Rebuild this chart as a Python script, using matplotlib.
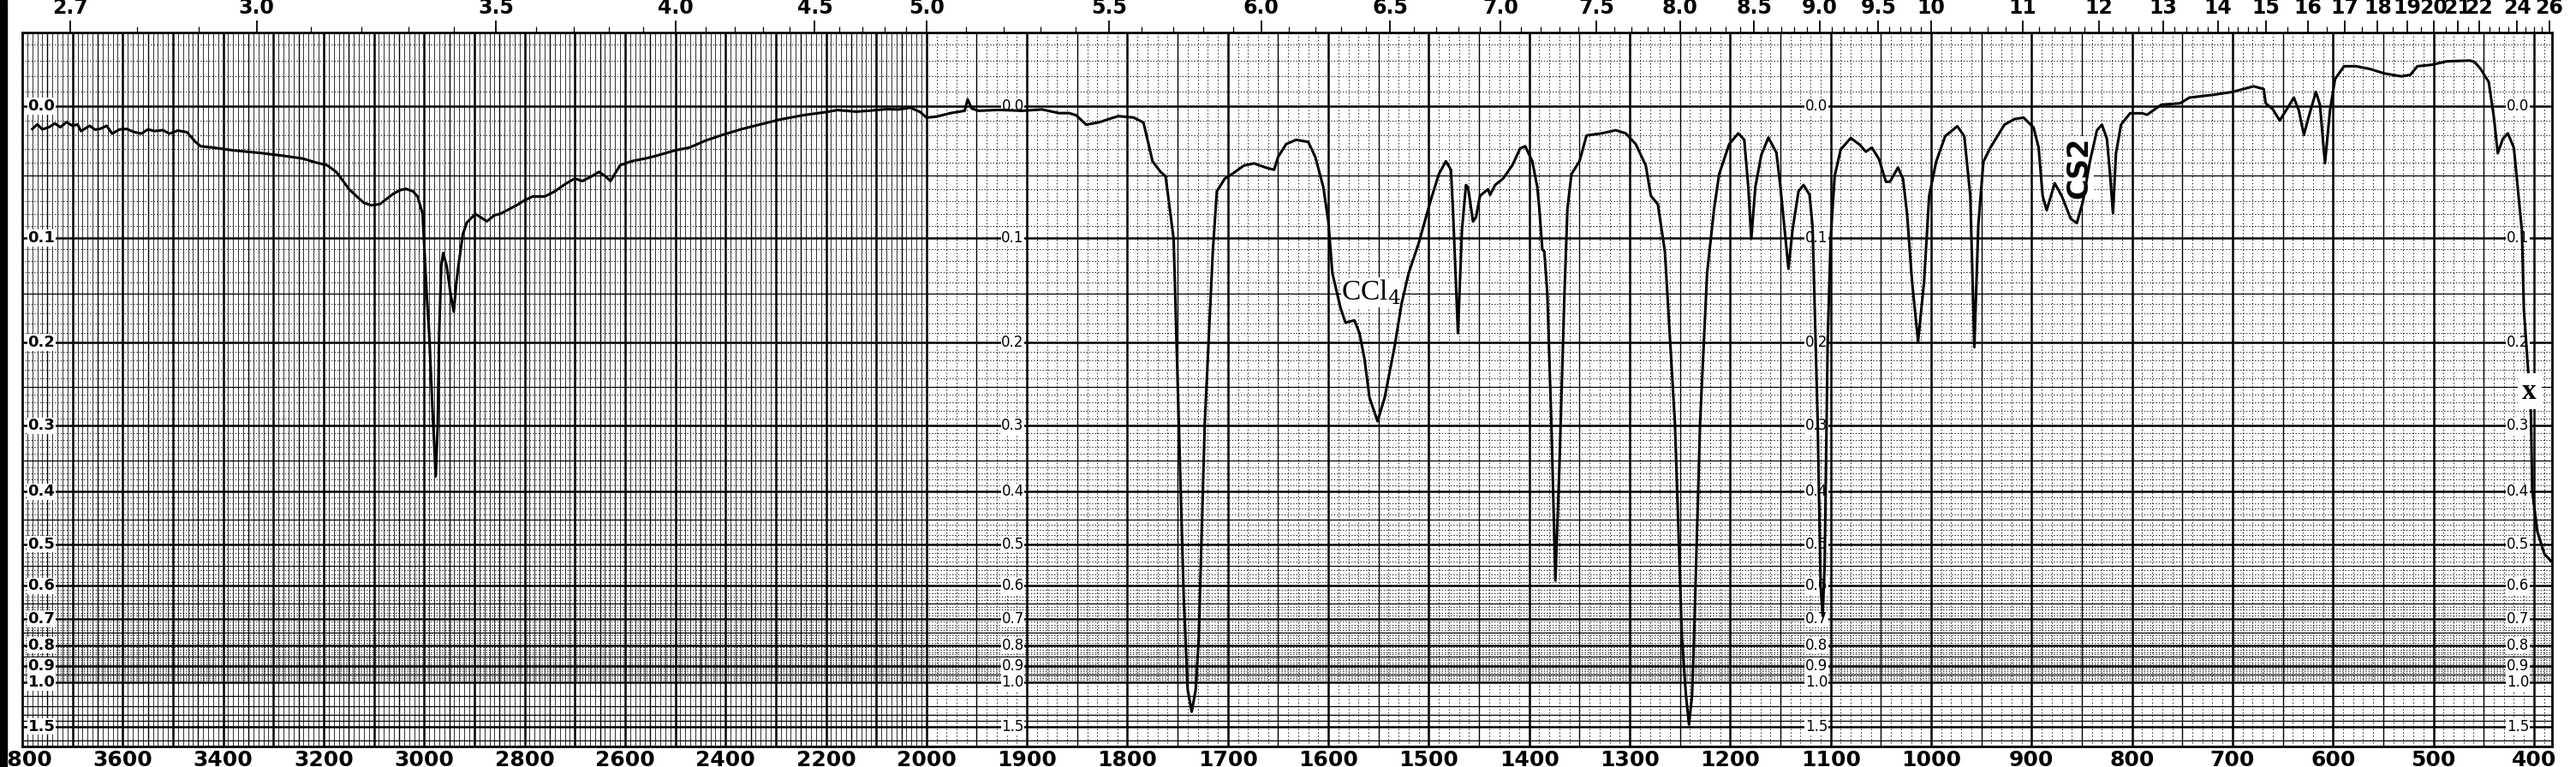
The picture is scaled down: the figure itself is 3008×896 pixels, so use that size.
import numpy as np
import matplotlib
matplotlib.use("Agg")
import matplotlib.pyplot as plt
from matplotlib.collections import LineCollection
from matplotlib.patches import Rectangle

# ---------------- data ----------------
wavenumber = [
    3780, 3770, 3760, 3746, 3735, 3724, 3712, 3700, 3690, 3683, 3666, 3655, 3644, 3632, 3621, 3606,
    3592, 3578, 3563, 3550, 3536, 3520, 3507, 3490, 3472, 3455, 3445, 3420, 3380, 3324, 3280, 3242,
    3215, 3193, 3175, 3165, 3150, 3134, 3120, 3105, 3088, 3075, 3062, 3048, 3036, 3022, 3013, 3003,
    2995, 2990, 2984, 2980, 2977, 2973, 2970, 2966, 2962, 2955, 2947, 2941, 2936, 2931, 2923, 2915,
    2898, 2875, 2860, 2849, 2830, 2816, 2800, 2784, 2760, 2740, 2718, 2700, 2685, 2665, 2652, 2640,
    2629, 2610, 2587, 2560, 2538, 2500, 2472, 2440, 2407, 2370, 2325, 2290, 2243, 2200, 2177, 2140,
    2112, 2080, 2055, 2032, 2012, 2000,
    1990, 1976, 1962, 1959, 1955, 1948, 1928, 1905, 1885, 1868, 1858, 1851, 1841, 1828, 1814, 1809,
    1794, 1784, 1775, 1767, 1762, 1754, 1750, 1744, 1740, 1736, 1732, 1729, 1723, 1715, 1711, 1703,
    1696, 1684, 1674, 1662, 1654, 1650, 1642, 1632, 1620, 1613, 1605, 1600, 1596, 1588, 1583, 1574,
    1569, 1564, 1559, 1551, 1544, 1534, 1527, 1520, 1510, 1498, 1490, 1483, 1478, 1476, 1471, 1467,
    1463, 1461, 1456, 1453, 1449, 1441, 1439, 1434, 1426, 1417, 1409, 1404, 1397, 1392, 1390, 1387,
    1385, 1382, 1378, 1374, 1370, 1365, 1362, 1358, 1350, 1343, 1328, 1314, 1304, 1294, 1284, 1279,
    1272, 1265, 1255, 1248, 1244, 1241, 1238, 1236, 1230, 1223, 1216, 1211, 1201, 1192, 1186, 1182,
    1179, 1175, 1169, 1162, 1154, 1150, 1142, 1138, 1132, 1127, 1121, 1118, 1116, 1113, 1110, 1108,
    1106, 1103, 1100, 1096, 1090, 1080, 1071, 1065, 1059, 1052, 1045, 1041, 1033, 1028, 1024, 1019,
    1013, 1007, 1002, 995, 986, 974, 967, 961, 957, 953, 948, 941, 934, 927, 917, 908,
    898, 893, 889, 885, 877, 870, 861, 855, 849, 842, 835, 830, 825, 822, 819, 816,
    811, 802, 790, 785, 771, 752, 743, 719, 700, 679, 669, 667, 660, 653, 646, 639,
    634, 629, 624, 617, 613, 608, 603, 598, 589, 577, 563, 549, 532, 523, 516, 502,
    487, 464, 459, 453, 445, 440, 436, 431, 426, 420, 417, 412, 410, 406, 403, 401.7,
    396.6, 389.5, 383,
]
absorbance = [
    0.0157, 0.0125, 0.016, 0.0143, 0.0118, 0.0145, 0.0109, 0.0135, 0.0125, 0.0172, 0.0135, 0.0162, 0.0155, 0.0135, 0.019, 0.016,
    0.0157, 0.0178, 0.019, 0.016, 0.0172, 0.0165, 0.019, 0.0168, 0.018, 0.025, 0.028, 0.029, 0.031, 0.033, 0.035, 0.037,
    0.040, 0.042, 0.047, 0.052, 0.060, 0.066, 0.071, 0.073, 0.072, 0.068, 0.064, 0.061, 0.060, 0.062, 0.066, 0.080,
    0.15, 0.19, 0.27, 0.325, 0.375, 0.30, 0.19, 0.125, 0.113, 0.125, 0.152, 0.168, 0.14, 0.122, 0.097, 0.087,
    0.080, 0.086, 0.081, 0.080, 0.076, 0.073, 0.069, 0.066, 0.066, 0.062, 0.056, 0.052, 0.054, 0.050, 0.047, 0.050,
    0.054, 0.042, 0.039, 0.037, 0.035, 0.031, 0.029, 0.024, 0.020, 0.016, 0.012, 0.009, 0.006, 0.004, 0.0026, 0.0037,
    0.003, 0.002, 0.0022, 0.001, 0.004, 0.0078,
    0.0071, 0.0047, 0.0031, -0.0046, 0.0015, 0.0031, 0.0025, 0.0031, 0.0022, 0.0047, 0.0047, 0.0062, 0.0127, 0.011, 0.0078, 0.0068,
    0.0077, 0.0112, 0.039, 0.047, 0.0503, 0.1006, 0.243, 0.627, 1.05, 1.263, 1.05, 0.773, 0.297, 0.112, 0.062, 0.052,
    0.0487, 0.0422, 0.0406, 0.0438, 0.0454, 0.0358, 0.0265, 0.0234, 0.0249, 0.0358, 0.0586, 0.0862, 0.131, 0.1638, 0.179, 0.1768,
    0.190, 0.218, 0.2638, 0.294, 0.264, 0.204, 0.1596, 0.131, 0.1043, 0.0687, 0.0487, 0.039, 0.0454, 0.0756, 0.190, 0.0933,
    0.057, 0.0586, 0.0862, 0.0826, 0.0654, 0.0603, 0.0647, 0.057, 0.052, 0.0422, 0.0296, 0.028, 0.039, 0.0586, 0.0756, 0.11,
    0.1118, 0.1512, 0.297, 0.586, 0.359, 0.1512, 0.0756, 0.0487, 0.039, 0.0203, 0.0188, 0.0166, 0.0188, 0.0265, 0.0422, 0.0654,
    0.0722, 0.1118, 0.297, 0.773, 1.1, 1.46, 1.1, 0.773, 0.297, 0.131, 0.0756, 0.0487, 0.0265, 0.0188, 0.0234, 0.0586,
    0.1006, 0.0586, 0.0343, 0.0218, 0.0327, 0.0586, 0.1272, 0.0933, 0.0619, 0.057, 0.0647, 0.0906, 0.1605, 0.29, 0.60, 0.69,
    0.55, 0.20, 0.10, 0.05, 0.0304, 0.0221, 0.027, 0.032, 0.029, 0.0373, 0.0545, 0.0545, 0.0437, 0.0523, 0.0793, 0.139,
    0.1988, 0.139, 0.0656, 0.0394, 0.0208, 0.0138, 0.0208, 0.0656, 0.205, 0.0888, 0.0394, 0.029, 0.0208, 0.0127, 0.0088, 0.0078,
    0.0147, 0.029, 0.0656, 0.077, 0.0556, 0.0656, 0.084, 0.0875, 0.0702, 0.0394, 0.0167, 0.0127, 0.0228, 0.048, 0.0793, 0.0331,
    0.0127, 0.0048, 0.0048, 0.0058, -0.001, -0.002, -0.0058, -0.0077, -0.0096, -0.0133, -0.0115, -0.002, 0.002, 0.0098, 0.002, -0.0058,
    0.0029, 0.0198, 0.0068, -0.0096, -0.001, 0.0405, 0.0029, -0.018, -0.0263, -0.0263, -0.0245, -0.0217, -0.0198, -0.0208, -0.0263, -0.0272,
    -0.0294, -0.0299, -0.029, -0.0245, -0.0161, 0.0068, 0.0331, 0.0228, 0.0188, 0.029, 0.0523, 0.0935, 0.1664, 0.227, 0.2835, 0.398,
    0.474, 0.522, 0.538,
]

bottom_ticks = [3800, 3600, 3400, 3200, 3000, 2800, 2600, 2400, 2200, 2000, 1900, 1800, 1700,
                1600, 1500, 1400, 1300, 1200, 1100, 1000, 900, 800, 700, 600, 500, 400]
micron_ticks = [2.7, 3.0, 3.5, 4.0, 4.5, 5.0, 5.5, 6.0, 6.5, 7.0, 7.5, 8.0, 8.5, 9.0, 9.5,
                10, 11, 12, 13, 14, 15, 16, 17, 18, 19, 20, 21, 22, 24, 26]
micron_labels = ["2.7", "3.0", "3.5", "4.0", "4.5", "5.0", "5.5", "6.0", "6.5", "7.0", "7.5",
                 "8.0", "8.5", "9.0", "9.5", "10", "11", "12", "13", "14", "15", "16", "17",
                 "18", "19", "20", "21", "22", "24", "26"]
abs_labels = [0.0, 0.1, 0.2, 0.3, 0.4, 0.5, 0.6, 0.7, 0.8, 0.9, 1.0, 1.5]
label_columns = [3789, 1903, 1103, 405]

plt.rcParams["font.family"] = ["Liberation Sans Narrow", "DejaVu Sans"]


# wavenumber axis: 3800-2000 compressed, 2000-400 expanded x2
def fwd_x(w):
    w = np.asarray(w, dtype=float)
    return np.where(w >= 2000, w, 2 * w - 2000)


def inv_x(u):
    u = np.asarray(u, dtype=float)
    return np.where(u >= 2000, u, (u + 2000) / 2)


# absorbance axis: linear in transmittance
def fwd_y(a):
    a = np.asarray(a, dtype=float)
    return 1 - np.power(10.0, -a)


def inv_y(t):
    t = np.asarray(t, dtype=float)
    return -np.log10(np.clip(1 - t, 1e-9, None))


W, H = 3008, 896
fig = plt.figure(figsize=(W / 100, H / 100), dpi=100)
fig.patch.set_facecolor("white")
ax = fig.add_axes([26 / W, 1 - 872 / H, (2980 - 26) / W, (872 - 38) / H])
ax.set_xscale("function", functions=(fwd_x, inv_x))
ax.set_yscale("function", functions=(fwd_y, inv_y))
ax.set_xlim(3800, 382)
ax.set_ylim(3.5, -0.0473)

# ---------------- chart-paper grid ----------------
vthick, vmed, vfine, vdot = [], [], [], []
for w in range(3790, 381, -10):
    seg = [(w, 0), (w, 1)]
    if w % 100 == 0:
        vthick.append(seg)
    elif w % 50 == 0:
        vmed.append(seg)
    elif w > 2000:
        vfine.append(seg)
    else:
        vdot.append(seg)
tx = ax.get_xaxis_transform()
ax.add_collection(LineCollection(vthick, colors="black", linewidths=1.8, transform=tx, zorder=1))
ax.add_collection(LineCollection(vmed, colors="black", linewidths=1.0, transform=tx, zorder=1))
ax.add_collection(LineCollection(vfine, colors="#222222", linewidths=0.65, transform=tx, zorder=1))
ax.add_collection(LineCollection(vdot, colors="#222222", linewidths=0.7, linestyles=(0, (1.5, 2.5)),
                                 transform=tx, zorder=1))

hthick, hmed, hdot = [], [], []
for i in range(-4, 100):
    a = round(i * 0.01, 2)
    seg = [(0, a), (1, a)]
    if i % 10 == 0:
        hthick.append(seg)
    elif i % 5 == 0:
        hmed.append(seg)
    else:
        hdot.append(seg)
for a in [1.1, 1.2, 1.3, 1.4, 2.0]:
    hmed.append([(0, a), (1, a)])
for a in [1.0, 1.5]:
    hthick.append([(0, a), (1, a)])
ty = ax.get_yaxis_transform()
ax.add_collection(LineCollection(hthick, colors="black", linewidths=1.8, transform=ty, zorder=1))
ax.add_collection(LineCollection(hmed, colors="black", linewidths=0.9, transform=ty, zorder=1))
ax.add_collection(LineCollection(hdot, colors="#222222", linewidths=0.7, linestyles=(0, (1.5, 2.0)),
                                 transform=ty, zorder=1))

# ---------------- absorbance label columns ----------------
for i, col in enumerate(label_columns):
    for a in abs_labels:
        if i == 0:
            ax.text(col, a, f"{a:.1f}", ha="left", va="center", fontsize=13, fontweight="bold",
                    family=["DejaVu Sans"], zorder=2,
                    bbox=dict(fc="white", ec="none", pad=0.5))
        else:
            ax.text(col, a, f"{a:.1f}", ha="right", va="center", fontsize=12,
                    family=["DejaVu Sans"], zorder=2,
                    bbox=dict(fc="white", ec="none", pad=0.5))

# ---------------- spectrum ----------------
ax.plot(wavenumber, absorbance, color="black", lw=2.2, solid_joinstyle="round", zorder=3)

# ---------------- annotations ----------------
ax.text(1587, 0.149, r"CCl$_4$", ha="left", va="center", fontsize=24, family=["Liberation Serif"],
        math_fontfamily="dejavuserif", zorder=2.5, bbox=dict(fc="white", ec="none", pad=0.5))
ax.text(853, 0.044, "CS2", rotation=90, ha="center", va="center", fontsize=24, fontweight="bold",
        zorder=2.5, bbox=dict(fc="white", ec="none", pad=0.5))
ax.text(404.5, 0.256, "x", ha="center", va="center", fontsize=24, fontweight="bold",
        family=["Liberation Serif"], zorder=5, bbox=dict(fc="white", ec="none", pad=4))

# ---------------- axes / ticks ----------------
for sp in ax.spines.values():
    sp.set_linewidth(2.0)
ax.set_yticks([])
ax.set_xticks(bottom_ticks, labels=[str(t) for t in bottom_ticks])
ax.tick_params(axis="x", length=0, pad=3, labelsize=18)
for lbl in ax.get_xticklabels():
    lbl.set_fontweight("bold")

ax2 = ax.twiny()
ax2.set_xscale("function", functions=(fwd_x, inv_x))
ax2.set_xlim(3800, 382)
ax2.set_xticks([1e4 / m for m in micron_ticks], labels=micron_labels)
minor_um = list(np.arange(2.7, 10.0, 0.1)) + list(np.arange(10, 15, 0.2)) + list(np.arange(15, 26.1, 0.5))
ax2.set_xticks([1e4 / m for m in minor_um if 1e4 / m > 382], minor=True)
ax2.tick_params(axis="x", which="major", direction="out", length=10, width=1.3, pad=2, labelsize=17)
ax2.tick_params(axis="x", which="minor", direction="out", length=5, width=0.9)
for lbl in ax2.get_xticklabels():
    lbl.set_fontweight("bold")
ax2.patch.set_visible(False)
for sp in ax2.spines.values():
    sp.set_visible(False)

# scanner edge on the left
fig.add_artist(Rectangle((0, 0), 8 / W, 1, transform=fig.transFigure, color="black", zorder=10))

fig.savefig("out.png", dpi=100, facecolor="white")
